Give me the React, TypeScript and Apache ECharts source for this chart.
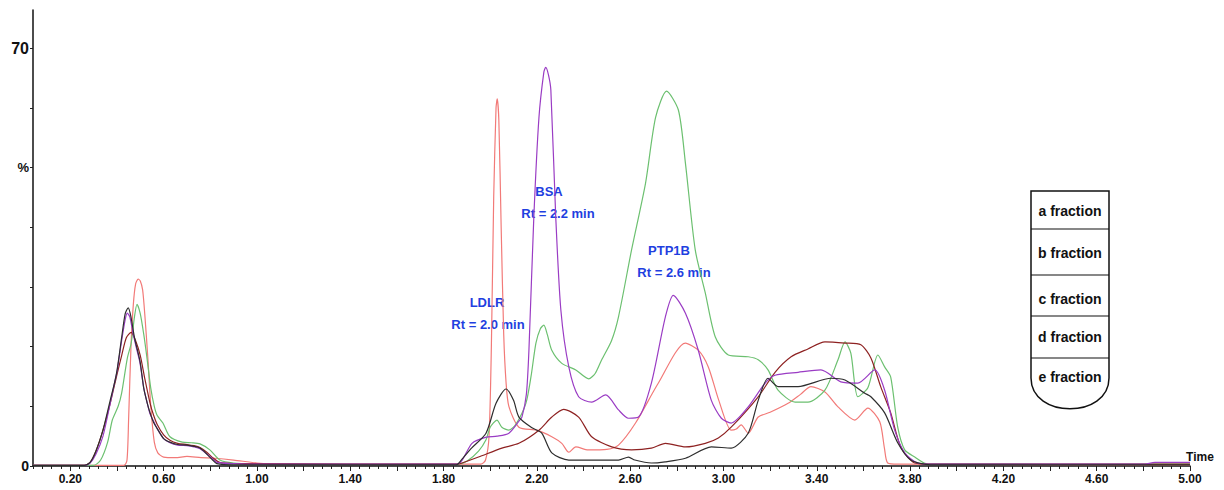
import React, { useEffect, useRef } from "react";
import * as echarts from "echarts";

// Retention time (min) / relative intensity (%) pairs
const redTrace: [number, number][] = [
  [0.04, 0.1], [0.43, 0.1], [0.443, 1], [0.45, 8], [0.46, 20], [0.47, 27], [0.48, 30.5], [0.491, 31.3],
  [0.5, 31], [0.51, 29.5], [0.52, 25], [0.533, 17.7], [0.545, 10], [0.56, 4], [0.575, 2.2], [0.6, 1.5],
  [0.65, 1.4], [0.7, 1.6], [0.76, 1.4], [0.82, 1.3], [0.9, 1.0], [1.0, 0.5], [1.1, 0.3], [1.96, 0.3],
  [1.98, 1], [1.995, 5], [2.005, 20], [2.015, 45], [2.025, 60], [2.03, 61.5], [2.037, 58], [2.047, 40],
  [2.058, 22], [2.068, 14], [2.08, 10], [2.123, 6.5], [2.2, 6], [2.264, 4.9], [2.307, 3.8], [2.337, 2.3],
  [2.367, 3.2], [2.42, 2.7], [2.5, 2.8], [2.55, 3.5], [2.623, 7.2], [2.721, 13.9], [2.837, 20.6],
  [2.892, 19.4], [2.935, 16.6], [2.98, 11], [3.033, 6], [3.055, 6.2], [3.076, 6.9], [3.106, 5.5],
  [3.149, 8.2], [3.2, 9], [3.277, 10.5], [3.33, 12], [3.375, 13.3], [3.435, 12.4], [3.491, 9.9],
  [3.563, 7.7], [3.619, 9.7], [3.67, 7.4], [3.69, 3], [3.704, 0.5], [3.75, 0.3], [5.0, 0.2],
];

const greenTrace: [number, number][] = [
  [0.04, 0.1], [0.3, 0.1], [0.33, 1], [0.36, 4], [0.38, 7.7], [0.405, 10], [0.42, 12.2], [0.444, 18],
  [0.461, 20.6], [0.475, 25], [0.486, 27.1], [0.5, 25.5], [0.515, 22], [0.529, 18], [0.545, 13],
  [0.56, 10], [0.572, 8.5], [0.597, 7.2], [0.627, 4.9], [0.68, 4.0], [0.72, 3.9], [0.756, 3.7],
  [0.798, 2.7], [0.841, 1.0], [0.9, 0.5], [1.0, 0.4], [1.86, 0.3], [1.9, 0.8], [1.95, 2.5], [1.982, 4.4],
  [2.0, 6.5], [2.029, 7.7], [2.05, 6.5], [2.08, 6], [2.11, 7], [2.153, 10.5], [2.175, 15], [2.196, 20.6],
  [2.215, 23], [2.23, 23.6], [2.245, 22], [2.264, 19.4], [2.307, 17.2], [2.367, 16.1], [2.422, 14.6],
  [2.45, 15.5], [2.478, 17.8], [2.52, 21], [2.55, 25], [2.606, 36.2], [2.666, 47.4], [2.709, 58.4],
  [2.756, 62.8], [2.807, 59.6], [2.837, 50.7], [2.879, 36.2], [2.922, 29], [2.965, 21.6], [3.021, 18.6],
  [3.106, 18.3], [3.149, 17.8], [3.191, 16.1], [3.234, 12.7], [3.307, 10.7], [3.362, 10.7], [3.435, 12.7],
  [3.491, 17.8], [3.521, 20.8], [3.546, 18.9], [3.576, 11.6], [3.619, 13.1], [3.662, 18.6], [3.691, 16.6],
  [3.717, 14.9], [3.747, 6.5], [3.777, 2.7], [3.82, 1.5], [3.87, 0.4], [5.0, 0.3],
];

const purpleTrace: [number, number][] = [
  [0.04, 0.1], [0.26, 0.1], [0.285, 0.5], [0.31, 2], [0.34, 5], [0.371, 10.5], [0.39, 14], [0.401, 16],
  [0.42, 21], [0.435, 24.5], [0.444, 25.6], [0.455, 25], [0.47, 22], [0.485, 19.5], [0.499, 17.2],
  [0.515, 13], [0.53, 10.5], [0.542, 8.7], [0.557, 7.5], [0.572, 6.3], [0.6, 4.6], [0.627, 3.9],
  [0.66, 3.5], [0.7, 3.4], [0.73, 3.2], [0.756, 2.9], [0.785, 2.0], [0.81, 1.2], [0.828, 0.6], [0.9, 0.4],
  [1.0, 0.3], [1.854, 0.3], [1.88, 1], [1.922, 3.8], [1.98, 4.8], [2.03, 5], [2.08, 5.5], [2.123, 7.5],
  [2.136, 8.2], [2.155, 12], [2.166, 19.4], [2.187, 41.7], [2.209, 58.4], [2.23, 66], [2.238, 66.8],
  [2.25, 65.5], [2.26, 63], [2.281, 41.7], [2.303, 26.1], [2.337, 16.6], [2.379, 11.6], [2.435, 10.7],
  [2.495, 11.9], [2.55, 9.4], [2.593, 8.0], [2.636, 8.2], [2.691, 13.9], [2.751, 25], [2.785, 28.6],
  [2.837, 25.6], [2.892, 19.4], [2.948, 11], [2.991, 8], [3.033, 7.2], [3.106, 9.9], [3.179, 13.9],
  [3.221, 15.2], [3.32, 15.7], [3.418, 16.1], [3.503, 14.1], [3.576, 13.9], [3.649, 16.1], [3.691, 12.7],
  [3.734, 6.0], [3.777, 2.2], [3.832, 0.5], [3.9, 0.3], [4.8, 0.3], [4.85, 0.6], [5.0, 0.6],
];

const brownTrace: [number, number][] = [
  [0.04, 0.1], [0.26, 0.1], [0.285, 0.6], [0.31, 2.5], [0.34, 6], [0.371, 10.5], [0.401, 15.5],
  [0.42, 18.5], [0.44, 21.5], [0.461, 22.4], [0.48, 21], [0.5, 18.5], [0.52, 14.5], [0.542, 10.5],
  [0.557, 8.5], [0.572, 7], [0.6, 5.2], [0.627, 4.3], [0.66, 3.8], [0.7, 3.6], [0.73, 3.4], [0.756, 3.1],
  [0.785, 2.3], [0.81, 1.4], [0.84, 0.6], [0.9, 0.4], [1.86, 0.3], [1.879, 0.5], [1.95, 1.5], [2.05, 3.0],
  [2.123, 3.8], [2.209, 6], [2.264, 8.2], [2.315, 9.5], [2.379, 8.2], [2.435, 4.9], [2.521, 3.2],
  [2.606, 2.7], [2.691, 3.0], [2.751, 3.8], [2.837, 3.2], [2.922, 3.8], [2.978, 4.7], [3.033, 6.5],
  [3.149, 11.6], [3.221, 15.7], [3.29, 18.3], [3.362, 19.6], [3.435, 20.8], [3.521, 20.6], [3.589, 20.3],
  [3.632, 18.1], [3.674, 13.3], [3.717, 8.9], [3.76, 3.2], [3.82, 0.5], [3.9, 0.3], [5.0, 0.3],
];

const blackTrace: [number, number][] = [
  [0.04, 0.1], [0.26, 0.1], [0.285, 0.6], [0.31, 2.5], [0.34, 6], [0.371, 11], [0.39, 14], [0.401, 16.2],
  [0.42, 21.5], [0.435, 25.5], [0.448, 26.5], [0.46, 25], [0.475, 21.5], [0.499, 17.5], [0.515, 13],
  [0.53, 10.5], [0.542, 8.9], [0.557, 7.3], [0.572, 6.3], [0.6, 4.6], [0.627, 4.0], [0.66, 3.6],
  [0.7, 3.5], [0.73, 3.3], [0.756, 3.0], [0.785, 2.0], [0.81, 1.0], [0.828, 0.4], [0.9, 0.2], [1.854, 0.2],
  [1.88, 1.2], [1.92, 3], [1.982, 5.5], [2.025, 10.5], [2.068, 12.9], [2.1, 11], [2.123, 8.2],
  [2.179, 6.4], [2.221, 5.5], [2.264, 2.2], [2.337, 1.0], [2.55, 1.0], [2.593, 1.5], [2.62, 1.0],
  [2.691, 0.5], [2.75, 0.7], [2.837, 1.3], [2.948, 3.2], [3.033, 3.0], [3.106, 5.5], [3.149, 11],
  [3.191, 14.7], [3.234, 13.3], [3.32, 13.3], [3.461, 14.7], [3.521, 14.4], [3.606, 12.2], [3.632, 11.6],
  [3.691, 8.9], [3.747, 3.9], [3.803, 1], [3.888, 0.2], [5.0, 0.2],
];

const seriesNames = ["a fraction", "b fraction", "c fraction", "d fraction", "e fraction"];
const seriesColors = ["#f27a78", "#6cc070", "#9a3cc4", "#8e2222", "#2e2e2e"];
const seriesData = [redTrace, greenTrace, purpleTrace, brownTrace, blackTrace];
const seriesOrder = [0, 1, 3, 2, 4];

const xTickLabels = [0.2, 0.6, 1.0, 1.4, 1.8, 2.2, 2.6, 3.0, 3.4, 3.8, 4.2, 4.6, 5.0];
const yTickLabels: Record<number, string> = { 0: "{z|0}", 50: "{p|%}", 70: "{s|70}" };

const annotations = [
  { text: "LDLR", x: 487, y: 302 },
  { text: "Rt = 2.0 min", x: 488, y: 324 },
  { text: "BSA", x: 549, y: 191 },
  { text: "Rt = 2.2 min", x: 558, y: 213 },
  { text: "PTP1B", x: 669, y: 250 },
  { text: "Rt = 2.6 min", x: 674, y: 272 },
];

const legendRows = [
  { text: "a fraction", y: 211 },
  { text: "b fraction", y: 253 },
  { text: "c fraction", y: 299 },
  { text: "d fraction", y: 337 },
  { text: "e fraction", y: 377 },
];
const legendDividers = [229, 275, 316, 358];

const FONT = "'Liberation Sans', Arial, Helvetica, sans-serif";

export default function App() {
  const ref = useRef<HTMLDivElement>(null);

  useEffect(() => {
    if (!ref.current) return;
    const chart = echarts.init(ref.current, undefined, { renderer: "svg" });

    const minorTicks: number[] = [];
    for (let i = 1; i <= 125; i++) minorTicks.push(Math.round(i * 4) / 100);
    const majorTicks: number[] = [];
    for (let i = 1; i <= 25; i++) majorTicks.push(Math.round(i * 20) / 100);

    const tubeL = 1031, tubeR = 1109, tubeT = 191, tubeS = 378, tubeC = 419;
    const graphics: any[] = [];
    annotations.forEach((a) =>
      graphics.push({
        type: "text",
        x: a.x,
        y: a.y,
        style: {
          text: a.text,
          fill: "#1f3fe0",
          font: `bold 13px ${FONT}`,
          textAlign: "center",
          textVerticalAlign: "middle",
        },
      })
    );
    graphics.push({
      type: "polyline",
      shape: { points: [[tubeL, tubeS], [tubeL, tubeT], [tubeR, tubeT], [tubeR, tubeS]] },
      style: { stroke: "#111", lineWidth: 1.5, fill: "none" },
    });
    graphics.push({
      type: "bezierCurve",
      shape: { x1: tubeR, y1: tubeS, cpx1: tubeR, cpy1: tubeC, cpx2: tubeL, cpy2: tubeC, x2: tubeL, y2: tubeS },
      style: { stroke: "#111", lineWidth: 1.5, fill: "none" },
    });
    legendDividers.forEach((y) =>
      graphics.push({
        type: "line",
        shape: { x1: tubeL, y1: y, x2: tubeR, y2: y },
        style: { stroke: "#111", lineWidth: 1.2 },
      })
    );
    legendRows.forEach((r) =>
      graphics.push({
        type: "text",
        x: (tubeL + tubeR) / 2,
        y: r.y,
        style: {
          text: r.text,
          fill: "#111",
          font: `bold 14px ${FONT}`,
          textAlign: "center",
          textVerticalAlign: "middle",
        },
      })
    );
    graphics.push({
      type: "text",
      x: 1200,
      y: 457,
      style: {
        text: "Time",
        fill: "#111",
        font: `bold 12px ${FONT}`,
        textAlign: "center",
        textVerticalAlign: "middle",
      },
    });

    chart.setOption({
      animation: false,
      backgroundColor: "#ffffff",
      grid: { left: 33, right: 34, top: 10, bottom: 24, containLabel: false, outerBoundsMode: "none" },
      xAxis: [
        {
          type: "value",
          min: 0.04,
          max: 5.0,
          axisLine: { show: true, lineStyle: { color: "#111", width: 1.5 } },
          axisTick: { show: true, length: 3, customValues: minorTicks, lineStyle: { color: "#222", width: 1 } },
          axisLabel: { show: false },
          splitLine: { show: false },
        },
        {
          type: "value",
          position: "bottom",
          min: 0.04,
          max: 5.0,
          axisLine: { show: false },
          axisTick: { show: true, length: 5, customValues: majorTicks, lineStyle: { color: "#222", width: 1 } },
          axisLabel: {
            show: true,
            customValues: xTickLabels,
            formatter: (v: number) => v.toFixed(2),
            color: "#111",
            fontWeight: "bold",
            fontSize: 12,
            fontFamily: FONT,
            margin: 7,
          },
          splitLine: { show: false },
        },
      ],
      yAxis: {
        type: "value",
        min: 0,
        max: 76.4,
        interval: 10,
        axisLine: { show: true, lineStyle: { color: "#111", width: 1.5 } },
        axisTick: { show: true, length: 3, lineStyle: { color: "#222" } },
        splitLine: { show: false },
        axisLabel: {
          showMaxLabel: false,
          margin: 4,
          formatter: (v: number) => yTickLabels[Math.round(v)] ?? "",
          rich: {
            z: { fontSize: 14, fontWeight: "bold", color: "#111", fontFamily: FONT },
            p: { fontSize: 13, fontWeight: "bold", color: "#111", fontFamily: FONT },
            s: { fontSize: 16, fontWeight: "bold", color: "#111", fontFamily: FONT },
          },
        },
      },
      series: seriesOrder.map((i) => ({
        name: seriesNames[i],
        type: "line",
        xAxisIndex: 0,
        data: seriesData[i],
        showSymbol: false,
        smooth: 0.25,
        lineStyle: { color: seriesColors[i], width: 1.2 },
        itemStyle: { color: seriesColors[i] },
      })),
      graphic: graphics,
    });

    return () => chart.dispose();
  }, []);

  return (
    <div
      ref={ref}
      style={{ position: "absolute", left: 0, top: 0, width: 1224, height: 490, background: "#fff" }}
    />
  );
}
